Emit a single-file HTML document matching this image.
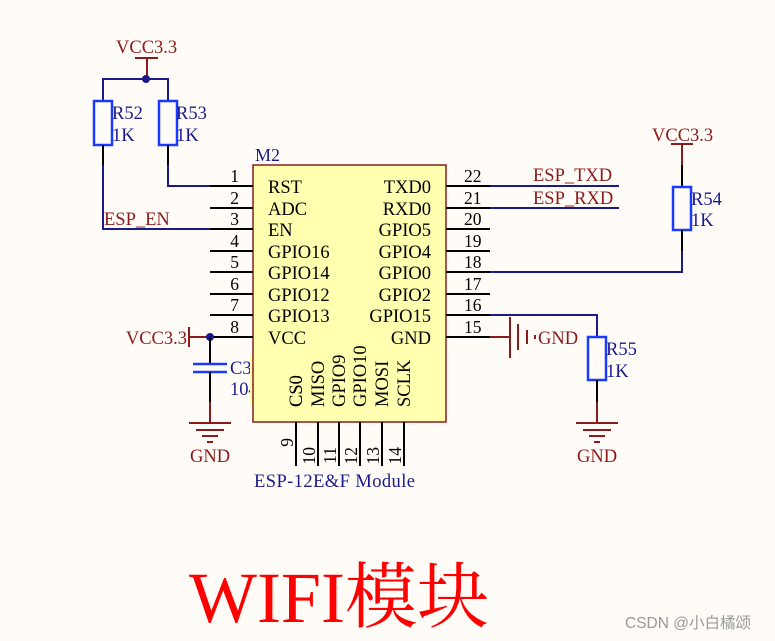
<!DOCTYPE html>
<html><head><meta charset="utf-8"><style>
html,body{margin:0;padding:0;background:#fffcf8;}
svg{display:block}
</style></head><body>
<svg width="775" height="641" viewBox="0 0 775 641" xmlns="http://www.w3.org/2000/svg" font-family="'Liberation Serif',serif">
<rect width="775" height="641" fill="#fffcf8"/>
<rect x="253" y="165" width="193" height="257" fill="#ffffb0" stroke="#8b1a1a" stroke-width="1.5"/>
<text x="255" y="161" font-size="18" fill="#1a1a8c">M2</text>
<g stroke="#000" stroke-width="2">
<line x1="210" y1="186" x2="253" y2="186"/><line x1="210" y1="208" x2="253" y2="208"/>
<line x1="210" y1="229" x2="253" y2="229"/><line x1="210" y1="251" x2="253" y2="251"/>
<line x1="210" y1="272" x2="253" y2="272"/><line x1="210" y1="294" x2="253" y2="294"/>
<line x1="210" y1="315" x2="253" y2="315"/><line x1="210" y1="337" x2="253" y2="337"/>
<line x1="446" y1="186" x2="490" y2="186"/><line x1="446" y1="208" x2="490" y2="208"/>
<line x1="446" y1="229" x2="490" y2="229"/><line x1="446" y1="251" x2="490" y2="251"/>
<line x1="446" y1="272" x2="490" y2="272"/><line x1="446" y1="294" x2="490" y2="294"/>
<line x1="446" y1="315" x2="490" y2="315"/><line x1="446" y1="337" x2="490" y2="337"/>
<line x1="296" y1="422" x2="296" y2="466"/><line x1="318" y1="422" x2="318" y2="466"/>
<line x1="339" y1="422" x2="339" y2="466"/><line x1="360" y1="422" x2="360" y2="466"/>
<line x1="382" y1="422" x2="382" y2="466"/><line x1="404" y1="422" x2="404" y2="466"/>
</g>
<g font-size="18.5" fill="#000">
<text x="268" y="193">RST</text><text x="268" y="215">ADC</text><text x="268" y="236">EN</text>
<text x="268" y="258">GPIO16</text><text x="268" y="279">GPIO14</text><text x="268" y="301">GPIO12</text>
<text x="268" y="322">GPIO13</text><text x="268" y="344">VCC</text>
<g text-anchor="end">
<text x="431" y="193">TXD0</text><text x="431" y="215">RXD0</text><text x="431" y="236">GPIO5</text>
<text x="431" y="258">GPIO4</text><text x="431" y="279">GPIO0</text><text x="431" y="301">GPIO2</text>
<text x="431" y="322">GPIO15</text><text x="431" y="344">GND</text>
</g>
<text transform="translate(302,407) rotate(-90)">CS0</text>
<text transform="translate(324,407) rotate(-90)">MISO</text>
<text transform="translate(345,407) rotate(-90)">GPIO9</text>
<text transform="translate(366,407) rotate(-90)">GPIO10</text>
<text transform="translate(388,407) rotate(-90)">MOSI</text>
<text transform="translate(410,407) rotate(-90)">SCLK</text>
</g>
<g font-size="17.5" fill="#000">
<g text-anchor="end">
<text x="239" y="182">1</text><text x="239" y="204">2</text><text x="239" y="225">3</text>
<text x="239" y="247">4</text><text x="239" y="268">5</text><text x="239" y="290">6</text>
<text x="239" y="311">7</text><text x="239" y="333">8</text>
</g>
<text x="464" y="182">22</text><text x="464" y="204">21</text><text x="464" y="225">20</text>
<text x="464" y="247">19</text><text x="464" y="268">18</text><text x="464" y="290">17</text>
<text x="464" y="311">16</text><text x="464" y="333">15</text>
<g text-anchor="end">
<text transform="translate(293,438) rotate(-90)">9</text>
<text transform="translate(315,447) rotate(-90)">10</text>
<text transform="translate(336,447) rotate(-90)">11</text>
<text transform="translate(357,447) rotate(-90)">12</text>
<text transform="translate(379,447) rotate(-90)">13</text>
<text transform="translate(401,447) rotate(-90)">14</text>
</g>
</g>
<text x="254" y="487" font-size="18.5" fill="#1a1a8c" textLength="161">ESP-12E&amp;F Module</text>

<line x1="147" y1="58" x2="147" y2="79" stroke="#8b1a1a" stroke-width="2"/>
<line x1="135" y1="58" x2="158" y2="58" stroke="#8b1a1a" stroke-width="2"/>
<text x="116" y="53" font-size="18.5" fill="#8b1a1a">VCC3.3</text>
<polyline points="103,100 103,79 168,79 168,100" fill="none" stroke="#1a1a8c" stroke-width="2"/>
<circle cx="146" cy="79" r="4" fill="#1a1a8c"/>
<rect x="94" y="101" width="18" height="44" fill="none" stroke="#1a3aff" stroke-width="2.5"/>
<rect x="159" y="101" width="18" height="44" fill="none" stroke="#1a3aff" stroke-width="2.5"/>
<line x1="103" y1="145" x2="103" y2="165" stroke="#000" stroke-width="2"/>
<line x1="168" y1="145" x2="168" y2="165" stroke="#000" stroke-width="2"/>
<polyline points="103,165 103,229 210,229" fill="none" stroke="#1a1a8c" stroke-width="2"/>
<polyline points="168,165 168,186 210,186" fill="none" stroke="#1a1a8c" stroke-width="2"/>
<g font-size="18.5" fill="#1a1a8c"><text x="112" y="119">R52</text><text x="112" y="141">1K</text>
<text x="176" y="119">R53</text><text x="176" y="141">1K</text></g>
<text x="104" y="225" font-size="18.5" fill="#8b1a1a">ESP_EN</text>

<text x="187" y="344" font-size="18.5" fill="#8b1a1a" text-anchor="end">VCC3.3</text>
<line x1="189" y1="327" x2="189" y2="347" stroke="#8b1a1a" stroke-width="2"/>
<line x1="189" y1="337" x2="210" y2="337" stroke="#8b1a1a" stroke-width="2"/>
<circle cx="210" cy="337" r="4" fill="#1a1a8c"/>
<line x1="210" y1="337" x2="210" y2="364" stroke="#000" stroke-width="2"/>
<line x1="193" y1="364" x2="227" y2="364" stroke="#1a3aff" stroke-width="2.5"/>
<line x1="193" y1="372" x2="227" y2="372" stroke="#1a3aff" stroke-width="2.5"/>
<line x1="210" y1="372" x2="210" y2="402" stroke="#000" stroke-width="2"/>
<line x1="210" y1="402" x2="210" y2="423" stroke="#8b1a1a" stroke-width="2"/>
<g font-size="18.5" fill="#1a1a8c"><text x="230" y="374">C34</text><text x="230" y="395">104</text></g>
<rect x="250" y="355" width="3" height="50" fill="#ffffb0"/>
<line x1="253" y1="355" x2="253" y2="405" stroke="#8b1a1a" stroke-width="1.5"/>
<rect x="253.8" y="355" width="40" height="50" fill="#ffffb0"/>
<g stroke="#8b1a1a" stroke-width="2">
<line x1="189" y1="423" x2="231" y2="423"/><line x1="196" y1="430" x2="224" y2="430"/>
<line x1="202" y1="436" x2="218" y2="436"/><line x1="207" y1="442" x2="213" y2="442"/>
</g>
<text x="190" y="462" font-size="18.5" fill="#8b1a1a">GND</text>
<g font-size="18.5" fill="#000">
<text transform="translate(302,407) rotate(-90)">CS0</text>
</g>

<line x1="490" y1="186" x2="619" y2="186" stroke="#1a1a8c" stroke-width="2"/>
<line x1="490" y1="208" x2="619" y2="208" stroke="#1a1a8c" stroke-width="2"/>
<g font-size="18.5" fill="#8b1a1a"><text x="533" y="181">ESP_TXD</text><text x="533" y="204">ESP_RXD</text></g>
<text x="652" y="141" font-size="18.5" fill="#8b1a1a">VCC3.3</text>
<line x1="671" y1="144" x2="693" y2="144" stroke="#8b1a1a" stroke-width="2"/>
<line x1="682" y1="144" x2="682" y2="165" stroke="#8b1a1a" stroke-width="2"/>
<line x1="682" y1="165" x2="682" y2="187" stroke="#000" stroke-width="2"/>
<rect x="673" y="187" width="18" height="43" fill="none" stroke="#1a3aff" stroke-width="2.5"/>
<line x1="682" y1="230" x2="682" y2="251" stroke="#000" stroke-width="2"/>
<polyline points="682,251 682,272 490,272" fill="none" stroke="#1a1a8c" stroke-width="2"/>
<g font-size="18.5" fill="#1a1a8c"><text x="691" y="205">R54</text><text x="691" y="226">1K</text></g>

<polyline points="490,315 597,315 597,337" fill="none" stroke="#1a1a8c" stroke-width="2"/>
<rect x="588" y="337" width="18" height="43" fill="none" stroke="#1a3aff" stroke-width="2.5"/>
<line x1="597" y1="380" x2="597" y2="402" stroke="#000" stroke-width="2"/>
<line x1="597" y1="402" x2="597" y2="423" stroke="#8b1a1a" stroke-width="2"/>
<g font-size="18.5" fill="#1a1a8c"><text x="606" y="355">R55</text><text x="606" y="377">1K</text></g>
<g stroke="#8b1a1a" stroke-width="2">
<line x1="576" y1="423" x2="618" y2="423"/><line x1="583" y1="430" x2="611" y2="430"/>
<line x1="589" y1="436" x2="605" y2="436"/><line x1="594" y1="442" x2="600" y2="442"/>
</g>
<text x="577" y="462" font-size="18.5" fill="#8b1a1a">GND</text>

<g stroke="#8b1a1a" stroke-width="2">
<line x1="490" y1="337" x2="510" y2="337"/>
<line x1="510" y1="317" x2="510" y2="358"/><line x1="518" y1="324" x2="518" y2="350"/>
<line x1="527" y1="330" x2="527" y2="344"/><line x1="535" y1="335" x2="535" y2="339"/>
</g>
<text x="538" y="344" font-size="18.5" fill="#8b1a1a">GND</text>

<text x="189" y="622" font-size="72" fill="#ff0000" style="font-family:'Liberation Serif','Noto Serif CJK SC',serif">WIFI模块</text>
<text x="625" y="628" font-size="15.5" fill="#999" style="font-family:'Liberation Sans','Noto Sans CJK SC',sans-serif">CSDN @小白橘颂</text>
</svg>
</body></html>
